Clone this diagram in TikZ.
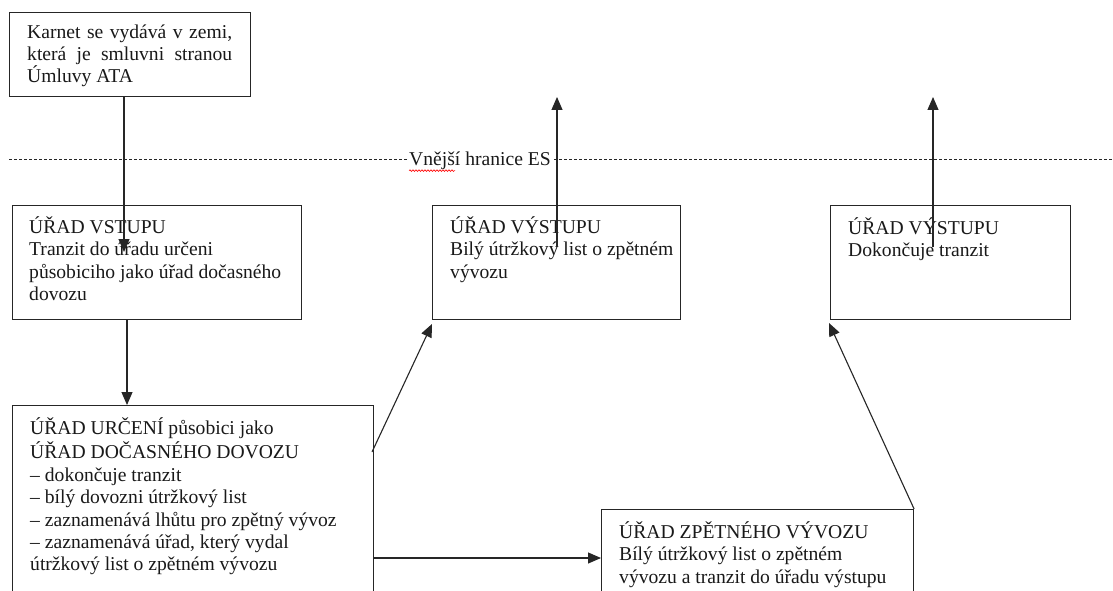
\documentclass[tikz,border=0pt]{standalone}
\usepackage{fontspec}
\setmainfont{Liberation Serif}
\usetikzlibrary{arrows.meta,calc,decorations.pathmorphing}
\begin{document}
\begin{tikzpicture}[x=1pt,y=-1pt,
  boxstyle/.style={draw=black!85,line width=1.1pt,inner sep=0pt,anchor=north west},
  txt/.style={inner sep=0pt,anchor=north west,align=left,font=\fontsize{19.6}{22.4}\selectfont,text=black!90},
  conn/.style={draw=black!85,line width=1.1pt,-{Triangle[length=13pt,width=11pt]}}]
\useasboundingbox (0,0) rectangle (1113,591);
\clip (0,0) rectangle (1113,591);
\fill[white] (0,0) rectangle (1113,591);
% border line
\coordinate (bl) at (9,159);
\coordinate (br) at (1113,159);
\draw[black!85,line width=1pt,dash pattern=on 3pt off 2pt] (bl) -- (br);
\node[txt,anchor=north,fill=white,inner xsep=1pt,inner ysep=0pt] (es) at (480,165.5-15.68) {\strut Vnější hranice ES};
\draw[red,line width=0.6pt,decorate,decoration={snake,amplitude=0.9pt,segment length=3pt}] ($(es.south west)+(1,-2)$) -- ++(46,0);
% boxes
\node[boxstyle,minimum width=241pt,minimum height=84pt] (b1) at (9,12) {};
\node[boxstyle,minimum width=289pt,minimum height=114pt] (b2) at (12,205) {};
\node[boxstyle,minimum width=248pt,minimum height=114pt] (b3) at (432,205) {};
\node[boxstyle,minimum width=240pt,minimum height=114pt] (b5) at (830,205) {};
\node[boxstyle,minimum width=361pt,minimum height=260pt] (b4) at (12,405) {};
\node[boxstyle,minimum width=312pt,minimum height=150pt] (b6) at (601,509) {};
% texts
\node[txt,text width=205pt,align=justify] at (27,38-15.68) {\strut Karnet se vydává v zemi,\linebreak která je smluvni stranou\linebreak Úmluvy ATA};
\node[txt] at (29,232-15.68) {\strut ÚŘAD VSTUPU\\Tranzit do úřadu určeni\\působiciho jako úřad dočasného\\dovozu};
\node[txt] at (450,232-15.68) {\strut ÚŘAD VÝSTUPU\\Bilý útržkový list o zpětném\\vývozu};
\node[txt] at (848,233-15.68) {\strut ÚŘAD VÝSTUPU\\Dokončuje tranzit};
\node[txt] at (30,433-15.68) {\strut ÚŘAD URČENÍ působici jako\\ÚŘAD DOČASNÉHO DOVOZU\\– dokončuje tranzit\\– bílý dovozni útržkový list\\– zaznamenává lhůtu pro zpětný vývoz\\– zaznamenává úřad, který vydal\\útržkový list o zpětném vývozu};
\node[txt] at (619,537-15.68) {\strut ÚŘAD ZPĚTNÉHO VÝVOZU\\Bílý útržkový list o zpětném\\vývozu a tranzit do úřadu výstupu};
% connectors
\coordinate (a1e) at (124,252);
\draw[conn] (b1.south west -| a1e) -- (a1e);
\coordinate (a2x) at (127,0);
\draw[conn] (b2.south west -| a2x) -- (b4.north west -| a2x);
\coordinate (a3s) at (372,452);
\coordinate (a3e) at (432,324);
\draw[conn] (a3s) -- (a3e);
\coordinate (a4s) at (557,247);
\coordinate (a4e) at (557,97);
\draw[conn] (a4s) -- (a4e);
\coordinate (a5s) at (933,247);
\coordinate (a5e) at (933,97);
\draw[conn] (a5s) -- (a5e);
\coordinate (a6y) at (0,558);
\draw[conn] (b4.north east |- a6y) -- (b6.north west |- a6y);
\coordinate (a7e) at (829,323);
\draw[conn] (b6.north east) -- (a7e);
\end{tikzpicture}
\end{document}
